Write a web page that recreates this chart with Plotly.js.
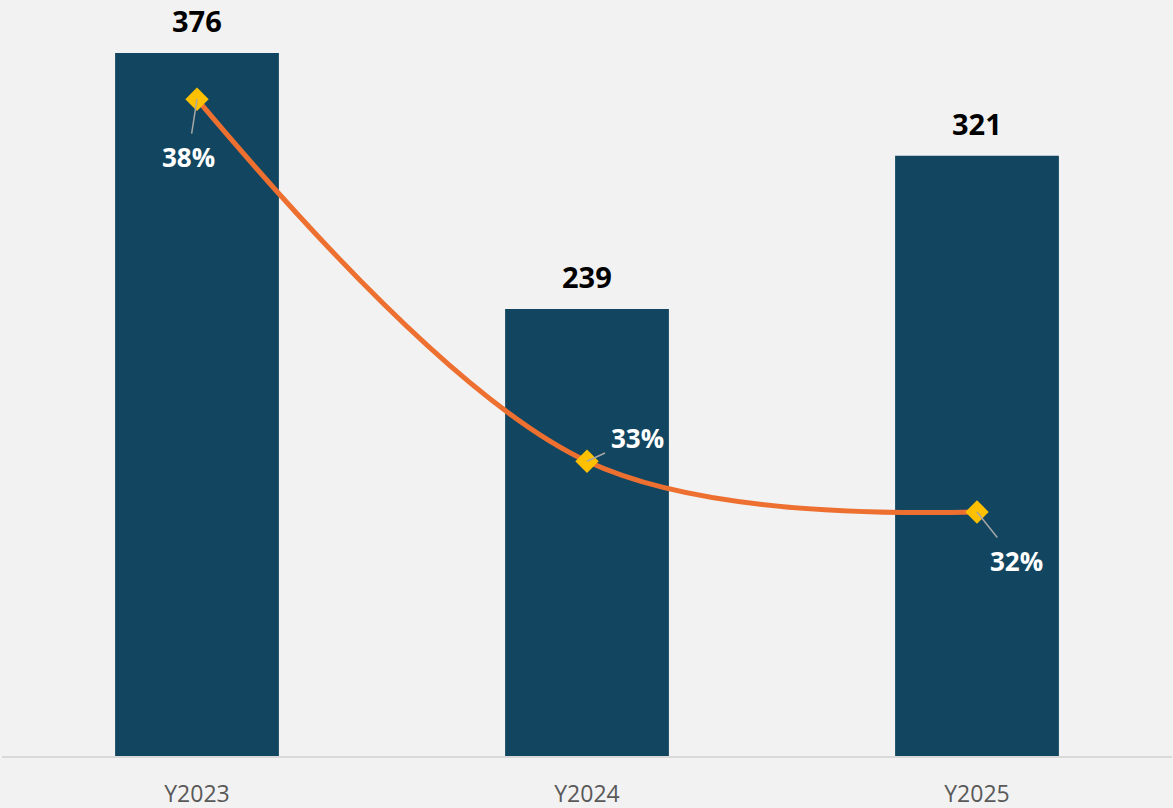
<!DOCTYPE html>
<html>
<head>
<meta charset="utf-8">
<script src="https://cdn.plot.ly/plotly-3.0.1.min.js"></script>
<style>
html,body{margin:0;padding:0;background:#F2F2F2;}
#chart{width:1173px;height:808px;}
</style>
</head>
<body>
<div id="chart"></div>
<script>
const categories = ["Y2023", "Y2024", "Y2025"];
const barValues = [376, 239, 321];
const pctValues = [38.0, 33.0, 32.3];
const pctLabels = ["38%", "33%", "32%"];
const pctOffsets = [[-9, 58], [50, -23], [39, 49]];

const barTrace = {
  type: "bar",
  x: categories,
  y: barValues,
  width: 0.42,
  marker: {color: "#124660"},
  hoverinfo: "skip",
  showlegend: false
};

const lineTrace = {
  type: "scatter",
  mode: "lines+markers",
  x: categories,
  y: pctValues,
  yaxis: "y2",
  line: {color: "#ED7031", width: 5, shape: "spline", smoothing: 1},
  marker: {symbol: "diamond", size: 18, color: "#FFC000"},
  hoverinfo: "skip",
  showlegend: false,
  cliponaxis: false
};

const annotations = [];
categories.forEach((c, i) => {
  annotations.push({
    x: c, y: barValues[i], xref: "x", yref: "y",
    text: String(barValues[i]), showarrow: false,
    yanchor: "bottom", yshift: 11,
    font: {family: "Open Sans", size: 29, color: "#000000", weight: 700}
  });
  annotations.push({
    x: c, y: pctValues[i], xref: "x", yref: "y2",
    text: pctLabels[i], showarrow: true, arrowhead: 0,
    arrowcolor: "#A6A6A6", arrowwidth: 1.5, standoff: 0, borderpad: 5,
    ax: pctOffsets[i][0], ay: pctOffsets[i][1],
    font: {family: "Open Sans", size: 26, color: "#FFFFFF", weight: 700}
  });
});

const layout = {
  width: 1173, height: 808,
  margin: {l: 2, r: 1, t: 0, b: 52},
  paper_bgcolor: "#F2F2F2",
  plot_bgcolor: "#F2F2F2",
  showlegend: false,
  xaxis: {
    type: "category",
    range: [-0.5, 2.5],
    showline: true, linecolor: "#D9D9D9", linewidth: 2,
    showgrid: false, zeroline: false, ticks: "",
    tickfont: {family: "Open Sans", size: 23, color: "#595959"},
    ticklabelstandoff: 16
  },
  yaxis: {
    range: [0, 404.3], visible: false, showgrid: false, zeroline: false
  },
  yaxis2: {
    range: [28.93, 39.37], overlaying: "y", side: "right",
    visible: false, showgrid: false, zeroline: false
  },
  annotations: annotations
};

Plotly.newPlot("chart", [barTrace, lineTrace], layout, {displayModeBar: false, staticPlot: true});
</script>
</body>
</html>
